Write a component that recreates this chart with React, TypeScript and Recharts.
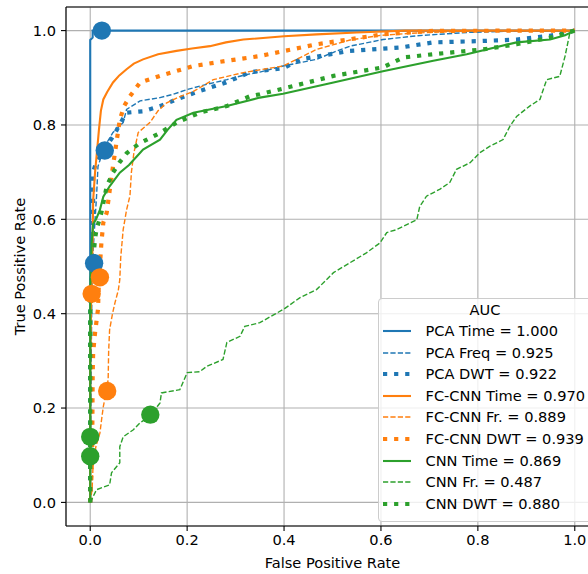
import React from "react";
import {
  CartesianGrid,
  ComposedChart,
  Legend,
  Line,
  ReferenceLine,
  Scatter,
  XAxis,
  YAxis,
} from "recharts";

type Pt = [number, number];

const BLUE = "#1f77b4";
const ORANGE = "#ff7f0e";
const GREEN = "#2ca02c";

const axisTicks = [0, 0.2, 0.4, 0.6, 0.8, 1.0];

// ROC curves: [false positive rate, true positive rate]
const pcaTime: Pt[] = [
  [0, 0], [0, 0.5], [0, 0.98], [0.005, 0.985], [0.005, 1], [1, 1],
];

const pcaFreq: Pt[] = [
  [0, 0], [0.002, 0.3], [0.004, 0.5], [0.01, 0.6], [0.013, 0.648], [0.016, 0.712],
  [0.025, 0.74], [0.034, 0.762], [0.047, 0.784], [0.068, 0.805], [0.075, 0.833],
  [0.103, 0.851], [0.144, 0.858], [0.171, 0.865], [0.2, 0.875], [0.24, 0.886],
  [0.282, 0.896], [0.323, 0.907], [0.35, 0.912], [0.398, 0.925], [0.467, 0.939],
  [0.502, 0.954], [0.536, 0.967], [0.604, 0.981], [0.674, 0.989], [0.777, 0.996],
  [0.88, 0.999], [1, 1],
];

const pcaDwt: Pt[] = [
  [0, 0], [0, 0.45], [0.006, 0.5], [0.006, 0.7], [0.012, 0.72], [0.03, 0.75],
  [0.05, 0.78], [0.06, 0.8], [0.075, 0.826], [0.109, 0.829], [0.144, 0.84],
  [0.178, 0.854], [0.22, 0.87], [0.28, 0.89], [0.33, 0.912], [0.398, 0.92],
  [0.433, 0.939], [0.536, 0.957], [0.639, 0.964], [0.708, 0.975], [0.81, 0.978],
  [0.88, 0.981], [0.949, 0.989], [1, 1],
];

const fcTime: Pt[] = [
  [0, 0], [0, 0.3], [0.002, 0.44], [0.005, 0.55], [0.006, 0.64], [0.01, 0.7],
  [0.013, 0.733], [0.018, 0.79], [0.022, 0.83], [0.027, 0.854], [0.035, 0.87],
  [0.047, 0.89], [0.06, 0.905], [0.075, 0.918], [0.09, 0.93], [0.109, 0.939],
  [0.14, 0.95], [0.178, 0.957], [0.21, 0.962], [0.247, 0.967], [0.28, 0.975],
  [0.316, 0.981], [0.4, 0.988], [0.467, 0.992], [0.55, 0.996], [0.65, 1], [1, 1],
];

const fcFreq: Pt[] = [
  [0, 0], [0.004, 0.03], [0.006, 0.084], [0.012, 0.12], [0.02, 0.147], [0.024, 0.18],
  [0.027, 0.203], [0.033, 0.235], [0.037, 0.26], [0.038, 0.32], [0.04, 0.366],
  [0.046, 0.4], [0.051, 0.423], [0.058, 0.45], [0.061, 0.472], [0.063, 0.52],
  [0.068, 0.578], [0.075, 0.62], [0.082, 0.65], [0.085, 0.7], [0.09, 0.74],
  [0.099, 0.784], [0.123, 0.805], [0.14, 0.83], [0.158, 0.847], [0.185, 0.86],
  [0.213, 0.871], [0.254, 0.896], [0.316, 0.911], [0.398, 0.925], [0.467, 0.96],
  [0.536, 0.98], [0.6, 0.99], [0.674, 0.995], [0.8, 1], [1, 1],
];

const fcDwt: Pt[] = [
  [0, 0], [0.004, 0.1], [0.005, 0.27], [0.006, 0.317], [0.01, 0.36], [0.016, 0.409],
  [0.018, 0.47], [0.023, 0.55], [0.027, 0.593], [0.034, 0.614], [0.04, 0.66],
  [0.048, 0.72], [0.054, 0.762], [0.061, 0.811], [0.07, 0.84], [0.082, 0.861],
  [0.103, 0.89], [0.144, 0.904], [0.213, 0.925], [0.282, 0.936], [0.35, 0.946],
  [0.467, 0.971], [0.604, 0.992], [0.708, 0.9995], [1, 1],
];

const cnnTime: Pt[] = [
  [0, 0], [0, 0.45], [0.003, 0.55], [0.006, 0.59], [0.012, 0.6], [0.02, 0.62],
  [0.027, 0.648], [0.04, 0.67], [0.061, 0.699], [0.08, 0.715], [0.096, 0.733],
  [0.109, 0.748], [0.144, 0.769], [0.16, 0.79], [0.178, 0.811], [0.213, 0.826],
  [0.282, 0.84], [0.35, 0.858], [0.398, 0.866], [0.502, 0.89], [0.604, 0.914],
  [0.708, 0.936], [0.777, 0.95], [0.88, 0.975], [0.949, 0.981], [0.98, 0.99], [1, 1],
];

const cnnFreq: Pt[] = [
  [0, 0], [0.003, 0.006], [0.013, 0.027], [0.04, 0.037], [0.044, 0.063], [0.061, 0.084],
  [0.061, 0.118], [0.068, 0.139], [0.089, 0.154], [0.103, 0.169], [0.123, 0.182],
  [0.144, 0.211], [0.147, 0.232], [0.185, 0.239], [0.2, 0.275], [0.226, 0.277],
  [0.24, 0.288], [0.274, 0.303], [0.282, 0.339], [0.309, 0.352], [0.319, 0.373],
  [0.35, 0.381], [0.4, 0.41], [0.433, 0.434], [0.467, 0.451], [0.502, 0.487],
  [0.536, 0.508], [0.57, 0.529], [0.598, 0.55], [0.612, 0.572], [0.632, 0.578],
  [0.674, 0.599], [0.68, 0.627], [0.694, 0.649], [0.722, 0.664], [0.742, 0.678],
  [0.756, 0.706], [0.784, 0.72], [0.804, 0.741], [0.825, 0.755], [0.852, 0.769],
  [0.866, 0.797], [0.88, 0.818], [0.907, 0.84], [0.928, 0.854], [0.942, 0.896],
  [0.969, 0.903], [0.98, 0.946], [0.99, 0.996], [1, 1],
];

const cnnDwt: Pt[] = [
  [0, 0], [0, 0.4], [0.005, 0.5], [0.01, 0.56], [0.013, 0.578], [0.023, 0.614],
  [0.034, 0.67], [0.047, 0.699], [0.06, 0.72], [0.075, 0.74], [0.1, 0.76],
  [0.144, 0.783], [0.178, 0.805], [0.226, 0.826], [0.282, 0.84], [0.33, 0.861],
  [0.35, 0.865], [0.433, 0.886], [0.502, 0.904], [0.604, 0.922], [0.646, 0.943],
  [0.708, 0.95], [0.81, 0.96], [0.88, 0.971], [0.949, 0.985], [1, 1],
];

// big circle markers
const blueMarks: Pt[] = [[0.024, 1.0], [0.03, 0.746], [0.008, 0.507]];
const orangeMarks: Pt[] = [[0.02, 0.477], [0.003, 0.442], [0.035, 0.236]];
const greenMarks: Pt[] = [[0.124, 0.186], [0.0, 0.139], [0.0, 0.098]];

const legendTitle = "AUC";
const seriesNames = [
  "PCA Time", "PCA Freq", "PCA DWT",
  "FC-CNN Time", "FC-CNN Fr.", "FC-CNN DWT",
  "CNN Time", "CNN Fr.", "CNN DWT",
];
const aucValues = [1.0, 0.925, 0.922, 0.97, 0.889, 0.939, 0.869, 0.487, 0.88];
const seriesData = [pcaTime, pcaFreq, pcaDwt, fcTime, fcFreq, fcDwt, cnnTime, cnnFreq, cnnDwt];

const FONT = "'DejaVu Sans', sans-serif";
const FS = 14.6;
const STYLES = [
  { strokeWidth: 2.1, dash: undefined },
  { strokeWidth: 1.4, dash: "5.2 2.2" },
  { strokeWidth: 4.2, dash: "4.2 6.9" },
];
const COLORS = [BLUE, ORANGE, GREEN];

const toXY = (pts: Pt[]) => pts.map(([x, y]) => ({ x, y }));

function AucLegend() {
  return (
    <div
      style={{
        position: "relative",
        width: 214,
        height: 224,
        boxSizing: "border-box",
        border: "1px solid #cccccc",
        borderRadius: 4,
        background: "rgba(255,255,255,0.8)",
        fontFamily: FONT,
        fontSize: FS,
        color: "#000",
      }}
    >
      <div
        style={{
          position: "absolute",
          left: 0,
          right: 0,
          top: 3,
          height: 16,
          lineHeight: "16px",
          textAlign: "center",
        }}
      >
        {legendTitle}
      </div>
      {seriesNames.map((name, i) => {
        const st = STYLES[i % 3];
        const color = COLORS[Math.floor(i / 3)];
        const top = 32 + i * 21.6 - 8;
        return (
          <div key={name} style={{ position: "absolute", left: 0, top, height: 16, width: 214 }}>
            <svg width={30} height={16} style={{ position: "absolute", left: 4, top: 0 }}>
              <line
                x1={0}
                x2={28}
                y1={8}
                y2={8}
                stroke={color}
                strokeWidth={st.strokeWidth}
                strokeDasharray={st.dash}
              />
            </svg>
            <span
              style={{
                position: "absolute",
                left: 46.5,
                top: 0,
                lineHeight: "16px",
                whiteSpace: "nowrap",
              }}
            >
              {`${name} = ${aucValues[i].toFixed(3)}`}
            </span>
          </div>
        );
      })}
    </div>
  );
}

const circle = (color: string) => (props: any) =>
  <circle cx={props.cx} cy={props.cy} r={9.2} fill={color} />;

export default function App() {
  const tickStyle = { fill: "#000", fontSize: FS, fontFamily: FONT };
  return (
    <div
      style={{
        position: "fixed",
        left: 0,
        top: 0,
        width: 588,
        height: 574,
        overflow: "hidden",
        background: "#fff",
      }}
    >
      <ComposedChart
        width={610}
        height={574}
        margin={{ top: 7, right: 11, left: 0, bottom: 0 }}
        style={{ fontFamily: FONT }}
      >
        <CartesianGrid stroke="#b0b0b0" strokeWidth={1.1} />
        <XAxis
          dataKey="x"
          type="number"
          domain={[-0.05, 1.05]}
          ticks={axisTicks}
          allowDataOverflow
          height={48}
          tickSize={5}
          tickMargin={4}
          tick={tickStyle}
          tickLine={{ stroke: "#000", strokeWidth: 1.1 }}
          axisLine={{ stroke: "#000", strokeWidth: 1.1 }}
          tickFormatter={(v: number) => v.toFixed(1)}
          label={{
            value: "False Positive Rate",
            position: "insideBottom",
            offset: 6,
            style: { fill: "#000", fontSize: FS, fontFamily: FONT },
          }}
        />
        <YAxis
          dataKey="y"
          type="number"
          domain={[-0.05, 1.05]}
          ticks={axisTicks}
          allowDataOverflow
          width={66}
          tickSize={5}
          tickMargin={5}
          tick={tickStyle}
          tickLine={{ stroke: "#000", strokeWidth: 1.1 }}
          axisLine={{ stroke: "#000", strokeWidth: 1.1 }}
          tickFormatter={(v: number) => v.toFixed(1)}
          label={{
            value: "True Possitive Rate",
            angle: -90,
            position: "insideLeft",
            offset: 20,
            style: { fill: "#000", fontSize: FS, fontFamily: FONT, textAnchor: "middle" },
          }}
        />
        <ReferenceLine y={1.05} stroke="#000" strokeWidth={1.1} />
        {seriesData.map((pts, i) => {
          const st = STYLES[i % 3];
          return (
            <Line
              key={seriesNames[i]}
              data={toXY(pts)}
              dataKey="y"
              type="linear"
              stroke={COLORS[Math.floor(i / 3)]}
              strokeWidth={st.strokeWidth}
              strokeDasharray={st.dash}
              dot={false}
              activeDot={false}
              isAnimationActive={false}
              legendType="none"
            />
          );
        })}
        <Scatter data={toXY(blueMarks)} shape={circle(BLUE)} isAnimationActive={false} legendType="none" />
        <Scatter data={toXY(orangeMarks)} shape={circle(ORANGE)} isAnimationActive={false} legendType="none" />
        <Scatter data={toXY(greenMarks)} shape={circle(GREEN)} isAnimationActive={false} legendType="none" />
        <Legend
          layout="horizontal"
          verticalAlign="middle"
          align="center"
          content={() => <AucLegend />}
          wrapperStyle={{ left: 378, top: 298, width: 214, height: 224 }}
        />
      </ComposedChart>
    </div>
  );
}
